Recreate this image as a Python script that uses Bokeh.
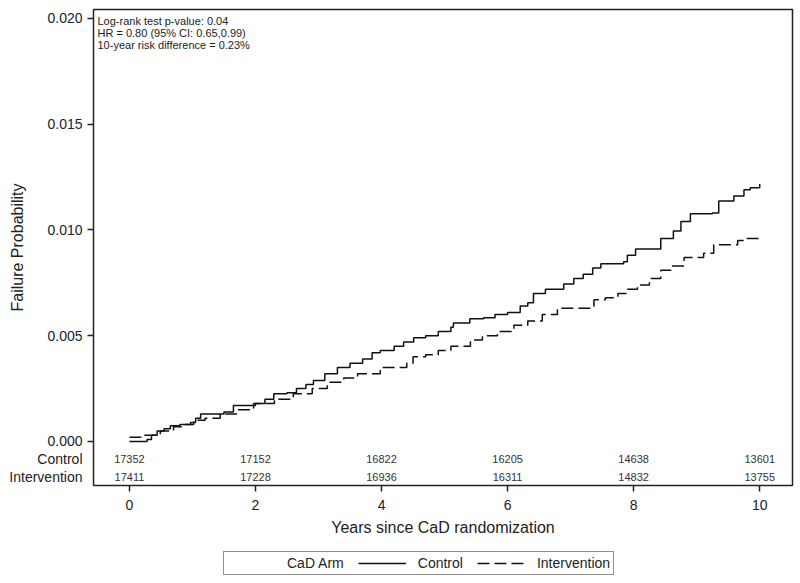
from bokeh.plotting import figure
from bokeh.layouts import column
from bokeh.models import (Range1d, FixedTicker, Label, Legend, LegendItem, LinearAxis,
                          ColumnDataSource, CustomJSTickFormatter)
from bokeh.core.properties import value
from bokeh.embed import file_html
from bokeh.resources import INLINE

FONT = "Liberation Sans"

# ---- data ----
control_t = [0.0, 0.15, 0.28, 0.35, 0.44, 0.55, 0.65, 0.8, 0.97, 1.05, 1.13, 1.4, 1.5, 1.65, 1.9, 2.0,
             2.15, 2.29, 2.5, 2.65, 2.8, 2.92, 3.1, 3.3, 3.5, 3.7, 3.85, 3.98, 4.2, 4.35, 4.51, 4.7,
             4.9, 5.1, 5.14, 5.4, 5.62, 5.8, 6.0, 6.2, 6.32, 6.41, 6.6, 6.89, 7.05, 7.2, 7.35, 7.48,
             7.84, 7.9, 8.03, 8.27, 8.43, 8.63, 8.75, 8.9, 9.25, 9.35, 9.59, 9.75, 9.85, 10.0]
control_v = [0.0, 0.0, 0.0001, 0.0003, 0.0005, 0.0006, 0.00075, 0.0008, 0.0009, 0.0011, 0.0013, 0.0013,
             0.0014, 0.0017, 0.0017, 0.0018, 0.0020, 0.00226, 0.0023, 0.0025, 0.0027, 0.00288, 0.0032,
             0.0035, 0.0037, 0.0039, 0.0042, 0.0043, 0.0045, 0.0047, 0.0049, 0.0050, 0.0052, 0.0054,
             0.0056, 0.0058, 0.00585, 0.0060, 0.0061, 0.0064, 0.00656, 0.0070, 0.0072, 0.00745, 0.0077,
             0.0079, 0.0082, 0.0084, 0.0085, 0.0088, 0.0091, 0.0091, 0.0096, 0.00995, 0.0104, 0.01076,
             0.0108, 0.01137, 0.0116, 0.0119, 0.0120, 0.01217]

interv_t = [0.0, 0.2, 0.49, 0.7, 0.85, 1.02, 1.2, 1.44, 1.7, 1.97, 2.3, 2.6, 2.9, 3.14, 3.4, 3.62,
            3.98, 4.4, 4.5, 4.7, 4.9, 5.1, 5.41, 5.6, 5.84, 6.1, 6.32, 6.55, 6.79, 7.16, 7.37, 7.55,
            7.75, 7.9, 8.06, 8.25, 8.43, 8.6, 8.8, 9.11, 9.27, 9.65, 9.8, 10.0]
interv_v = [0.0002, 0.0003, 0.0005, 0.0007, 0.0008, 0.001, 0.0011, 0.0013, 0.0015, 0.0018, 0.0020,
            0.00226, 0.0025, 0.0028, 0.0030, 0.0032, 0.0035, 0.0037, 0.0040, 0.0041, 0.0043, 0.0045,
            0.0048, 0.0050, 0.0052, 0.0055, 0.0057, 0.0060, 0.0063, 0.0063, 0.0067, 0.0068, 0.007,
            0.0072, 0.0074, 0.0077, 0.0081, 0.0083, 0.0087, 0.0089, 0.0093, 0.0095, 0.0096, 0.0097]

risk_times = [0, 2, 4, 6, 8, 10]
risk_control = [17352, 17152, 16822, 16205, 14638, 13601]
risk_interv = [17411, 17228, 16936, 16311, 14832, 13755]
risk_groups = ["Control", "Intervention"]

x_ticks = [0, 2, 4, 6, 8, 10]
y_ticks = [0.0, 0.005, 0.010, 0.015, 0.020]
annotations = ["Log-rank test p-value: 0.04",
               "HR = 0.80 (95% CI: 0.65,0.99)",
               "10-year risk difference = 0.23%"]
legend_title = "CaD Arm"

X0, X1 = -0.57, 10.52
Y0, Y1 = -0.00208, 0.02042
ROW_C, ROW_I = -0.00085, -0.0017

p = figure(width=794, height=545, output_backend="svg", toolbar_location=None,
           x_range=Range1d(X0, X1), y_range=Range1d(Y0, Y1),
           min_border_left=93, min_border_right=2, min_border_top=9, min_border_bottom=60)
p.background_fill_color = "white"
p.border_fill_color = "white"
p.outline_line_color = "#222222"
p.outline_line_width = 1.5
p.xgrid.visible = False
p.ygrid.visible = False


def style_axis(ax):
    ax.axis_line_color = None
    ax.major_tick_line_color = "#222222"
    ax.major_tick_line_width = 1.5
    ax.major_tick_out = 6
    ax.major_tick_in = 0
    ax.minor_tick_line_color = None
    ax.major_label_text_font = FONT
    ax.major_label_text_font_size = "14px"
    ax.major_label_text_color = "#222222"
    ax.axis_label_text_font = FONT
    ax.axis_label_text_font_size = "16px"
    ax.axis_label_text_font_style = "normal"
    ax.axis_label_text_color = "#222222"


xa = p.xaxis[0]
style_axis(xa)
xa.ticker = FixedTicker(ticks=x_ticks)
xa.axis_label = "Years since CaD randomization"
xa.major_label_standoff = 8
xa.axis_label_standoff = 6

# inner y axis: tick marks only
ya = p.yaxis[0]
style_axis(ya)
ya.ticker = FixedTicker(ticks=y_ticks)
ya.formatter = CustomJSTickFormatter(code="return '';")
ya.major_label_standoff = 0
ya.axis_label = None

# outer y axis: numeric labels and the at-risk row names, no tick marks
ya2 = LinearAxis(ticker=FixedTicker(ticks=y_ticks + [ROW_C, ROW_I]))
style_axis(ya2)
ya2.major_tick_line_color = None
ya2.major_tick_out = 0
ya2.major_label_standoff = 5
ya2.formatter = CustomJSTickFormatter(
    args=dict(rc=ROW_C, ri=ROW_I, names=risk_groups),
    code="if (Math.abs(tick - rc) < 1e-7) return names[0];"
         "if (Math.abs(tick - ri) < 1e-7) return names[1];"
         "return tick.toFixed(3);")
ya2.axis_label = "Failure Probability"
ya2.axis_label_standoff = -20
p.add_layout(ya2, "left")

src_c = ColumnDataSource(dict(t=control_t, v=control_v))
src_i = ColumnDataSource(dict(t=interv_t, v=interv_v))
p.step("t", "v", source=src_c, mode="after", line_color="#111111", line_width=1.5)
p.step("t", "v", source=src_i, mode="after", line_color="#111111", line_width=1.5,
       line_dash="12 5")

p.text(x=risk_times, y=[ROW_C] * len(risk_times), text=[str(v) for v in risk_control],
       text_font=value(FONT), text_font_size="11px", text_align="center",
       text_baseline="middle", text_color="#333333")
p.text(x=risk_times, y=[ROW_I] * len(risk_times), text=[str(v) for v in risk_interv],
       text_font=value(FONT), text_font_size="11px", text_align="center",
       text_baseline="middle", text_color="#333333")

for i, s in enumerate(annotations):
    p.add_layout(Label(x=X0, y=Y1, x_offset=4, y_offset=-5 - 12 * i, text=s,
                       text_align="left", text_baseline="top", text_font=FONT,
                       text_font_size="11px", text_color="#222222"))

# ---- legend strip below the chart (its sample lines sit outside its visible range) ----
pl = figure(width=794, height=38, output_backend="svg", toolbar_location=None,
            x_range=Range1d(X0, X1), y_range=Range1d(1, 2), x_axis_type=None, y_axis_type=None,
            min_border_left=0, min_border_right=0, min_border_top=0, min_border_bottom=0)
pl.outline_line_color = None
pl.xgrid.visible = False
pl.ygrid.visible = False
pl.background_fill_color = "white"
pl.border_fill_color = "white"
lg_blank = pl.line("t", "v", source=src_c, line_alpha=0)
lg_c = pl.step("t", "v", source=src_c, mode="after", line_color="#111111", line_width=1.5)
lg_i = pl.step("t", "v", source=src_i, mode="after", line_color="#111111", line_width=1.5,
               line_dash="12 5")

legend = Legend(items=[LegendItem(label=legend_title, renderers=[lg_blank]),
                       LegendItem(label="Control", renderers=[lg_c]),
                       LegendItem(label="Intervention", renderers=[lg_i])],
                orientation="horizontal", location=(130, 8))
legend.label_text_font = FONT
legend.label_text_font_size = "14px"
legend.label_text_color = "#222222"
legend.glyph_width = 48
legend.glyph_height = 14
legend.label_height = 14
legend.label_standoff = 12
legend.spacing = 14
legend.padding = 3
legend.margin = 0
legend.border_line_color = "#222222"
legend.border_line_width = 1.5
legend.background_fill_alpha = 1
pl.add_layout(legend, "center")

layout = column(p, pl, spacing=0)
open("out.html", "w").write(file_html(layout, INLINE))
